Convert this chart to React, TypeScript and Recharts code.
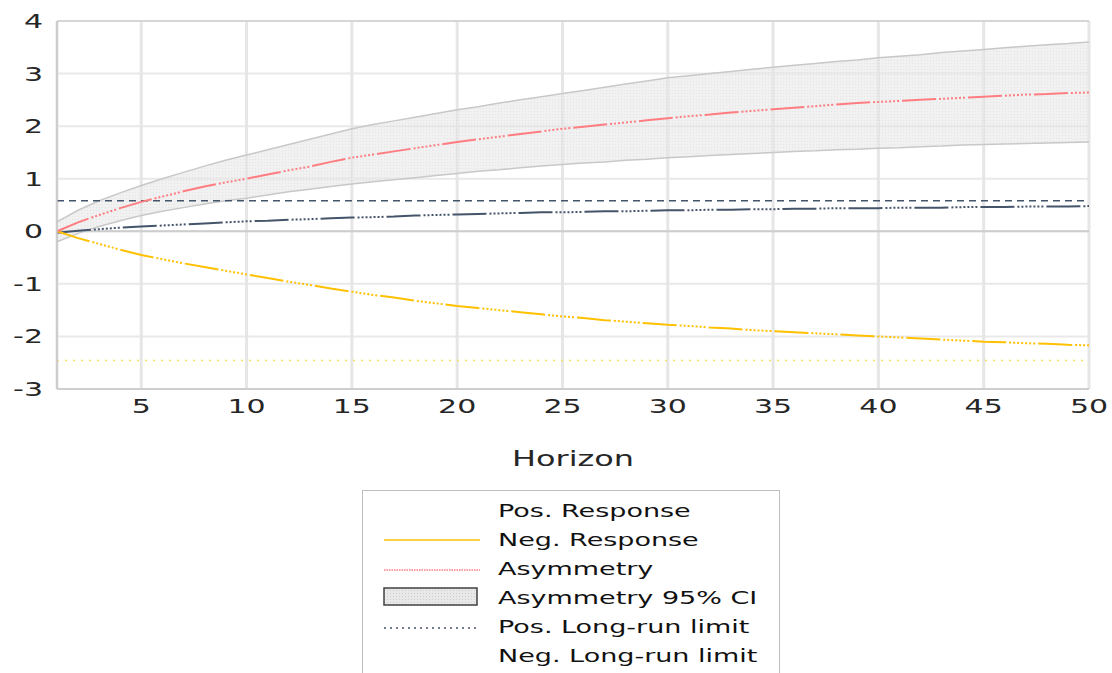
import { ComposedChart, CartesianGrid, XAxis, YAxis, Legend, Area, Line, ReferenceLine } from "recharts";

const HORIZON = [1, 2, 3, 4, 5, 6, 7, 8, 9, 10, 11, 12, 13, 14, 15, 16, 17, 18, 19, 20, 21, 22, 23, 24, 25, 26, 27, 28, 29, 30, 31, 32, 33, 34, 35, 36, 37, 38, 39, 40, 41, 42, 43, 44, 45, 46, 47, 48, 49, 50];

const POS_RESPONSE = [-0.03, 0.01, 0.04, 0.07, 0.09, 0.11, 0.13, 0.15, 0.17, 0.19, 0.2, 0.22, 0.23, 0.25, 0.26, 0.27, 0.28, 0.3, 0.31, 0.32, 0.33, 0.34, 0.35, 0.36, 0.36, 0.37, 0.38, 0.38, 0.39, 0.4, 0.4, 0.41, 0.41, 0.42, 0.42, 0.43, 0.43, 0.44, 0.44, 0.44, 0.45, 0.45, 0.45, 0.46, 0.46, 0.46, 0.47, 0.47, 0.47, 0.48];

const NEG_RESPONSE = [0, -0.13, -0.24, -0.35, -0.45, -0.53, -0.61, -0.68, -0.75, -0.82, -0.89, -0.96, -1.02, -1.09, -1.15, -1.21, -1.26, -1.32, -1.37, -1.42, -1.46, -1.5, -1.54, -1.58, -1.62, -1.65, -1.69, -1.72, -1.75, -1.78, -1.8, -1.83, -1.85, -1.88, -1.9, -1.92, -1.94, -1.96, -1.98, -2.0, -2.02, -2.04, -2.06, -2.08, -2.1, -2.11, -2.13, -2.14, -2.16, -2.17];

const ASYMMETRY = [0, 0.17, 0.31, 0.44, 0.56, 0.66, 0.76, 0.85, 0.93, 1.0, 1.08, 1.16, 1.23, 1.32, 1.4, 1.46, 1.52, 1.58, 1.64, 1.7, 1.75, 1.8, 1.85, 1.9, 1.95, 1.99, 2.03, 2.07, 2.11, 2.15, 2.19, 2.22, 2.26, 2.29, 2.32, 2.35, 2.38, 2.41, 2.44, 2.46, 2.48, 2.5, 2.52, 2.54, 2.56, 2.58, 2.6, 2.61, 2.63, 2.64];

const CI_UPPER = [0.18, 0.4, 0.58, 0.73, 0.87, 1.0, 1.12, 1.24, 1.35, 1.45, 1.55, 1.65, 1.75, 1.85, 1.95, 2.03, 2.1, 2.17, 2.24, 2.31, 2.37, 2.44, 2.5, 2.56, 2.62, 2.68, 2.74, 2.8, 2.86, 2.92, 2.96, 3.0, 3.04, 3.08, 3.12, 3.16, 3.19, 3.23, 3.26, 3.3, 3.33, 3.36, 3.4, 3.43, 3.46, 3.49, 3.52, 3.55, 3.57, 3.6];

const CI_LOWER = [-0.2, -0.04, 0.09, 0.2, 0.3, 0.38, 0.45, 0.52, 0.58, 0.63, 0.69, 0.75, 0.8, 0.85, 0.9, 0.94, 0.98, 1.02, 1.06, 1.1, 1.14, 1.17, 1.21, 1.24, 1.27, 1.3, 1.32, 1.35, 1.37, 1.4, 1.42, 1.44, 1.46, 1.48, 1.5, 1.52, 1.53, 1.55, 1.56, 1.58, 1.59, 1.61, 1.62, 1.64, 1.65, 1.66, 1.67, 1.68, 1.69, 1.7];

const POS_LIMIT = 0.58;
const NEG_LIMIT = -2.46;

const X_TICKS = [5, 10, 15, 20, 25, 30, 35, 40, 45, 50];
const Y_TICKS = [-3, -2, -1, 0, 1, 2, 3, 4];

const LEGEND_NAMES = ["Pos. Response", "Neg. Response", "Asymmetry", "Asymmetry 95% CI", "Pos. Long-run limit", "Neg. Long-run limit"];

const data = HORIZON.map((h, i) => ({
  h,
  pos: POS_RESPONSE[i],
  neg: NEG_RESPONSE[i],
  asym: ASYMMETRY[i],
  ci: [CI_LOWER[i], CI_UPPER[i]],
}));

const NAVY = "#44546a";
const RED = "#ff7c80";
const GOLD = "#ffc000";
const FONT = "DejaVu Sans";
// long dash followed by a run of dots, like the source rendering
const MIXED = "34 3 2 2 2 2 2 2 2 2 2 2 2 2 2 3";

const XTick = ({ x, payload }: any) => (
  <text transform={`translate(${x},413) scale(1.5,1)`} textAnchor="middle" fontSize={20} fontFamily={FONT} fill="#262626">
    {payload.value}
  </text>
);

const YTick = ({ y, payload }: any) => (
  <text transform={`translate(43,${y + 7}) scale(1.5,1)`} textAnchor="end" fontSize={20} fontFamily={FONT} fill="#262626">
    {payload.value}
  </text>
);

const AxisTitle = ({ viewBox }: any) => {
  const cx = viewBox ? viewBox.x + viewBox.width / 2 : 573;
  return (
    <text transform={`translate(${cx},466) scale(1.45,1)`} textAnchor="middle" fontSize={22} fontFamily={FONT} fill="#262626">
      Horizon
    </text>
  );
};

const LegendBox = () => {
  const rowY = (i: number) => 26 + i * 29;
  return (
    <svg width={418} height={200} style={{ display: "block", background: "#fff", border: "1px solid #bfbfbf", boxSizing: "border-box" }}>
      <defs>
        <pattern id="ciDotsLegend" width={3} height={3} patternUnits="userSpaceOnUse">
          <rect width={3} height={3} fill="#e8e8e8" />
          <rect width={1} height={1} fill="#cfcfcf" />
        </pattern>
      </defs>
      <line x1={21} x2={117} y1={rowY(1) - 6} y2={rowY(1) - 6} stroke={GOLD} strokeWidth={1.5} />
      <line x1={21} x2={117} y1={rowY(2) - 5} y2={rowY(2) - 5} stroke={RED} strokeWidth={1.5} strokeDasharray="1.5 1" />
      <rect x={21} y={97} width={93} height={17} fill="url(#ciDotsLegend)" stroke="#404040" strokeWidth={1.5} />
      <line x1={21} x2={117} y1={rowY(4) - 5} y2={rowY(4) - 5} stroke={NAVY} strokeWidth={1.5} strokeDasharray="2 4" />
      {LEGEND_NAMES.map((name, i) => (
        <text key={name} transform={`translate(135,${rowY(i)}) scale(1.5,1)`} fontSize={18} fontFamily={FONT} fill="#111">
          {name}
        </text>
      ))}
    </svg>
  );
};

export default function App() {
  return (
    <div style={{ position: "absolute", left: 0, top: 0, width: 1112, height: 673, background: "#fff", overflow: "hidden" }}>
      <ComposedChart width={1112} height={673} data={data} margin={{ top: 21, right: 23, left: 0, bottom: 194 }}>
        <defs>
          <pattern id="ciDots" width={3} height={3} patternUnits="userSpaceOnUse">
            <rect width={3} height={3} fill="#e8e8e8" />
            <rect width={1} height={1} fill="#d2d2d2" />
          </pattern>
        </defs>
        <CartesianGrid vertical={false} stroke="#e9e9e9" strokeWidth={2} />
        <CartesianGrid horizontal={false} stroke="#e6e6e6" strokeWidth={3} />
        <XAxis
          dataKey="h"
          type="number"
          domain={[1, 50]}
          ticks={X_TICKS}
          interval={0}
          tickLine={false}
          axisLine={{ stroke: "#c4c4c4", strokeWidth: 1.5 }}
          height={90}
          tick={<XTick />}
          label={<AxisTitle />}
        />
        <YAxis
          type="number"
          domain={[-3, 4]}
          ticks={Y_TICKS}
          interval={0}
          width={57}
          tickLine={false}
          axisLine={{ stroke: "#c4c4c4", strokeWidth: 1.5 }}
          tick={<YTick />}
        />
        <ReferenceLine y={4} stroke="#cfcfcf" strokeWidth={1.5} />
        <ReferenceLine y={0} stroke="#cdcdcd" strokeWidth={2} />
        <Area dataKey="ci" type="linear" fill="url(#ciDots)" stroke="#c8c8c8" strokeWidth={1.5} isAnimationActive={false} />
        <ReferenceLine y={POS_LIMIT} stroke={NAVY} strokeWidth={1.5} strokeDasharray="7 5" />
        <ReferenceLine y={NEG_LIMIT} stroke="#ffd966" strokeWidth={1.5} strokeDasharray="2 6" />
        <Line dataKey="pos" type="linear" stroke={NAVY} strokeWidth={2} strokeDasharray={MIXED} dot={false} isAnimationActive={false} />
        <Line dataKey="neg" type="linear" stroke={GOLD} strokeWidth={2} strokeDasharray={MIXED} dot={false} isAnimationActive={false} />
        <Line dataKey="asym" type="linear" stroke={RED} strokeWidth={2} strokeDasharray={MIXED} dot={false} isAnimationActive={false} />
        <Legend
          layout="vertical"
          verticalAlign="middle"
          align="center"
          content={<LegendBox />}
          wrapperStyle={{ left: 362, top: 490, width: 418, height: 200 }}
        />
      </ComposedChart>
    </div>
  );
}
